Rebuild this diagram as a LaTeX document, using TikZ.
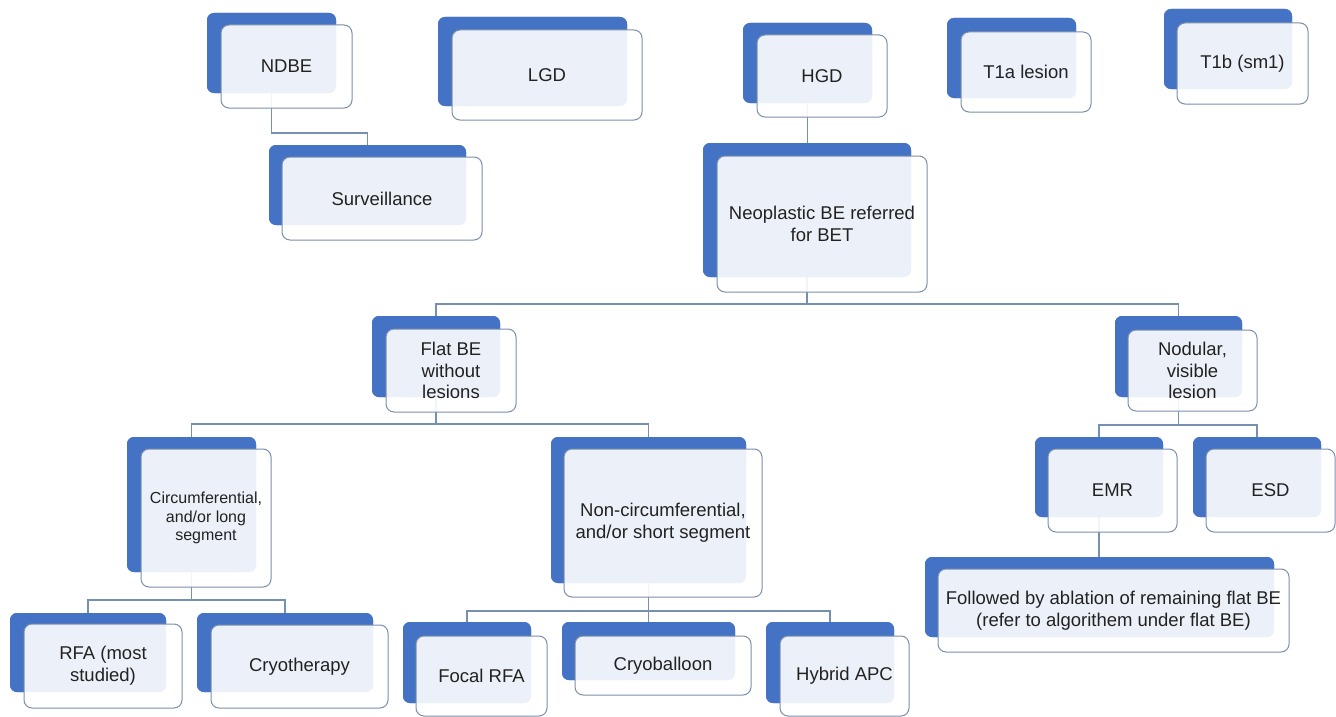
\documentclass[tikz,border=0pt]{standalone}
\usepackage{fontspec}
\setmainfont{Liberation Sans}
\definecolor{backblue}{HTML}{4472C4}
\definecolor{frontedge}{HTML}{7B90AA}
\definecolor{linkcol}{HTML}{7690B2}
\definecolor{txt}{HTML}{222222}
\tikzset{
  back/.style={fill=backblue, draw=none, rounded corners=7pt, inner sep=0pt, outer sep=0pt},
  front/.style={fill=white, fill opacity=0.9, text opacity=1, draw=frontedge, line width=1pt,
    rounded corners=8pt, inner sep=0pt, outer sep=0pt, align=center, text=txt,
    font=\fontsize{18.5}{21.8}\selectfont},
  small/.style={font=\fontsize{16}{18.5}\selectfont},
  link/.style={draw=linkcol, line width=1.2pt}
}
\begin{document}
\begin{tikzpicture}[x=1pt,y=-1pt]
\fill[white] (0,0) rectangle (1336,717);
\useasboundingbox (0,0) rectangle (1336,717);

% back rectangles (blue)
\node[back, minimum width=129pt, minimum height=80pt] (ndbe) at (271.5,53) {};
\node[back, minimum width=197pt, minimum height=80pt] (surv) at (367.5,185) {};
\node[back, minimum width=189pt, minimum height=89pt] (lgd) at (532.5,61.5) {};
\node[back, minimum width=129pt, minimum height=80pt] (hgd) at (807.5,63) {};
\node[back, minimum width=129pt, minimum height=80pt] (t1a) at (1011.5,58) {};
\node[back, minimum width=128pt, minimum height=80pt] (t1b) at (1228,49) {};
\node[back, minimum width=208pt, minimum height=134pt] (neo) at (807,210) {};
\node[back, minimum width=128pt, minimum height=81pt] (flat) at (436,356.5) {};
\node[back, minimum width=127pt, minimum height=81pt] (nod) at (1178.5,356.5) {};
\node[back, minimum width=129pt, minimum height=135pt] (circ) at (191.5,504.5) {};
\node[back, minimum width=195pt, minimum height=146pt] (noncirc) at (648.5,510) {};
\node[back, minimum width=128pt, minimum height=80pt] (emr) at (1099,477) {};
\node[back, minimum width=128pt, minimum height=80pt] (esd) at (1257,477) {};
\node[back, minimum width=349pt, minimum height=80pt] (fol) at (1099.5,597) {};
\node[back, minimum width=156pt, minimum height=79pt] (rfa) at (88,652.5) {};
\node[back, minimum width=176pt, minimum height=79pt] (cryo) at (285,652.5) {};
\node[back, minimum width=128pt, minimum height=81pt] (focal) at (467,662.5) {};
\node[back, minimum width=173pt, minimum height=58pt] (cbal) at (648.5,651) {};
\node[back, minimum width=128pt, minimum height=81pt] (hyb) at (830,662.5) {};

% connectors
\draw[link] (ndbe.south) -- ++(0,40) -| (surv.north);
\draw[link] (hgd.south) -- (hgd.south |- neo.north);
\draw[link] (neo.south) -- ++(0,27);
\draw[link] (flat.north) -- ++(0,-12) -| (nod.north);
\draw[link] (flat.south) -- ++(0,26);
\draw[link] (circ.north) -- ++(0,-13) -| (noncirc.north);
\draw[link] (nod.south) -- ++(0,28);
\draw[link] (emr.north) -- ++(0,-12) -| (esd.north);
\draw[link] (emr.south) -- (emr.south |- fol.north);
\draw[link] (circ.south) -- ++(0,28);
\draw[link] (rfa.north) -- ++(0,-13) -| (cryo.north);
\draw[link] (noncirc.south) -- (noncirc.south |- cbal.north);
\draw[link] (focal.north) -- ++(0,-11) -| (hyb.north);

% redraw back rectangles over connector ends
\foreach \n in {ndbe,surv,lgd,hgd,t1a,t1b,neo,flat,nod,circ,noncirc,emr,esd,fol,rfa,cryo,focal,cbal,hyb}{
  \fill[backblue, rounded corners=7pt] (\n.north west) rectangle (\n.south east);
}

% front boxes with text
\node[front, minimum width=131pt, minimum height=83pt] (ndbe-f) at (286.5,66.5) {NDBE};
\node[front, minimum width=200pt, minimum height=83pt] (surv-f) at (382,198.5) {Surveillance};
\node[front, minimum width=190pt, minimum height=90pt] (lgd-f) at (547,75) {LGD};
\node[front, minimum width=130pt, minimum height=82pt] (hgd-f) at (822,76) {HGD};
\node[front, minimum width=130pt, minimum height=80pt] (t1a-f) at (1026,72) {T1a lesion};
\node[front, minimum width=131pt, minimum height=81pt] (t1b-f) at (1242.5,63.5) {T1b (sm1)};
\node[front, minimum width=210pt, minimum height=136pt] (neo-f) at (822,224) {Neoplastic BE referred\\for BET};
\node[front, minimum width=130pt, minimum height=83pt] (flat-f) at (451,370.5) {Flat BE\\without\\lesions};
\node[front, minimum width=129pt, minimum height=81pt] (nod-f) at (1192.5,370.5) {Nodular,\\visible\\lesion};
\node[front, small, minimum width=130pt, minimum height=138pt] (circ-f) at (206,518) {Circumferential,\\and/or long\\segment};
\node[front, minimum width=198pt, minimum height=148pt] (noncirc-f) at (663,523) {Non-circumferential,\\and/or short segment};
\node[front, minimum width=129pt, minimum height=83pt] (emr-f) at (1112.5,490.5) {EMR};
\node[front, minimum width=129pt, minimum height=83pt] (esd-f) at (1270.5,490.5) {ESD};
\node[front, minimum width=351pt, minimum height=83pt] (fol-f) at (1113.5,610.5) {Followed by ablation of remaining flat BE\\(refer to algorithem under flat BE)};
\node[front, minimum width=158pt, minimum height=84pt] (rfa-f) at (103,666) {RFA (most\\studied)};
\node[front, minimum width=177pt, minimum height=83pt] (cryo-f) at (299.5,666.5) {Cryotherapy};
\node[front, minimum width=131pt, minimum height=80pt] (focal-f) at (481.5,676) {Focal RFA};
\node[front, minimum width=176pt, minimum height=59pt] (cbal-f) at (663,665.5) {Cryoballoon};
\node[front, minimum width=129pt, minimum height=80pt] (hyb-f) at (844.5,676) {Hybrid APC};
\end{tikzpicture}
\end{document}
